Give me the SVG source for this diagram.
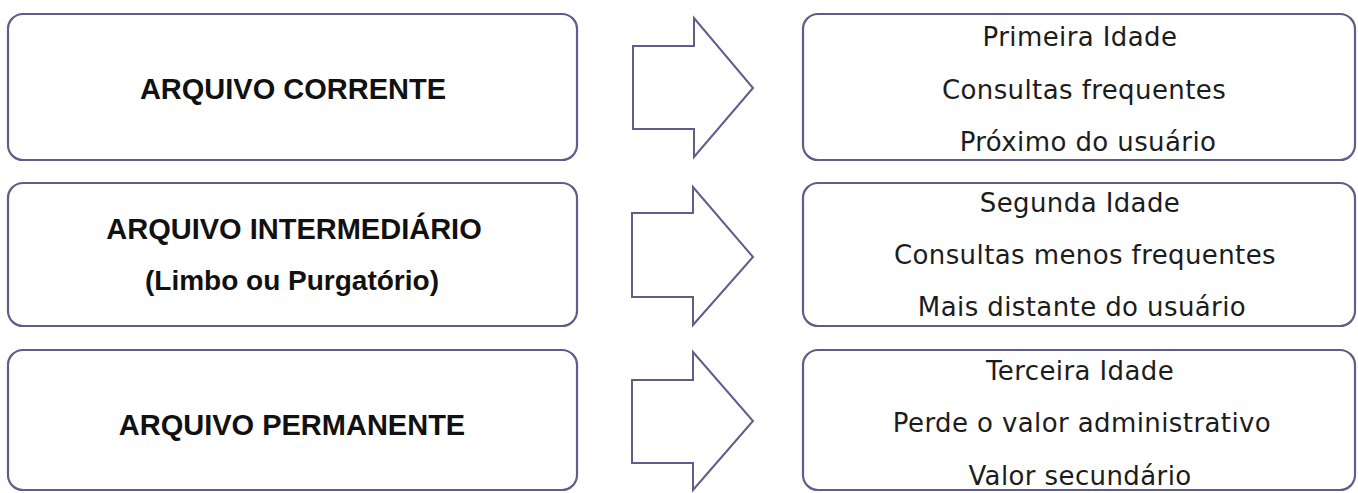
<svg xmlns="http://www.w3.org/2000/svg" width="1358" height="493" viewBox="0 0 1358 493">
<style>
.box{fill:#ffffff;stroke:#5f5d8a;stroke-width:2.2}
.arr{fill:#ffffff;stroke:#5f5d8a;stroke-width:2;stroke-linejoin:miter}
.lt{font-family:"Liberation Sans",Arial,sans-serif;font-weight:bold;font-size:29px;fill:#111;text-anchor:middle;letter-spacing:0px}
.rt{font-family:"DejaVu Sans","Liberation Sans",sans-serif;font-size:26px;fill:#1c1c1c;text-anchor:middle;letter-spacing:0.4px}
</style>
<rect width="1358" height="493" fill="#ffffff"/>
<g id="n1">
<rect class="box" x="8" y="14" width="569" height="146" rx="15"/>
<text class="lt" x="293" y="99">ARQUIVO CORRENTE</text>
</g>
<g id="n2">
<rect class="box" x="8" y="183" width="569" height="143" rx="15"/>
<text class="lt" x="294" y="239">ARQUIVO INTERMEDIÁRIO</text>
<text class="lt" x="292" y="290" style="font-size:28px">(Limbo ou Purgatório)</text>
</g>
<g id="n3">
<rect class="box" x="8" y="350" width="569" height="140" rx="15"/>
<text class="lt" x="292" y="435">ARQUIVO PERMANENTE</text>
</g>
<g id="r1">
<rect class="box" x="803" y="14" width="552" height="146" rx="15"/>
<text class="rt" x="1080" y="46">Primeira Idade</text>
<text class="rt" x="1084" y="99">Consultas frequentes</text>
<text class="rt" x="1088" y="151">Próximo do usuário</text>
</g>
<g id="r2">
<rect class="box" x="803" y="183" width="552" height="143" rx="15"/>
<text class="rt" x="1080" y="212">Segunda Idade</text>
<text class="rt" x="1085" y="264">Consultas menos frequentes</text>
<text class="rt" x="1082" y="316">Mais distante do usuário</text>
</g>
<g id="r3">
<rect class="box" x="803" y="350" width="552" height="140" rx="15"/>
<text class="rt" x="1080" y="380">Terceira Idade</text>
<text class="rt" x="1082" y="432">Perde o valor administrativo</text>
<text class="rt" x="1080" y="485">Valor secundário</text>
</g>
<g id="connectors">
<path class="arr" d="M633,46 H694 V18 L753,88 L694,157 V129 H633 Z"/>
<path class="arr" d="M632,213 H693 V187 L753,257 L693,325 V297 H632 Z"/>
<path class="arr" d="M632,380 H693 V352 L753,421 L693,490 V463 H632 Z"/>
</g>
</svg>
